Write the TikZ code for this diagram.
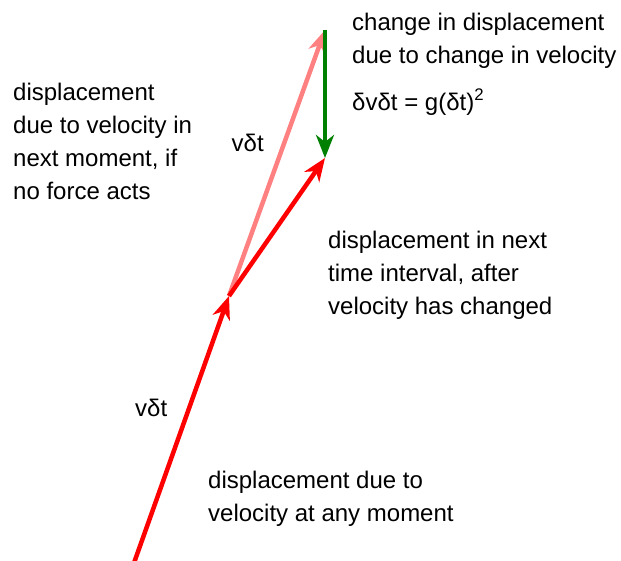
\documentclass[tikz,border=0pt]{standalone}
\usepackage{fontspec}
\setmainfont{Liberation Sans}
\usetikzlibrary{arrows.meta}
\definecolor{vecred}{RGB}{255,0,0}
\definecolor{vecpink}{RGB}{255,128,128}
\definecolor{vecgreen}{RGB}{0,128,0}
\begin{document}
\begin{tikzpicture}[x=1pt,y=-1pt,
  vec/.style={line width=4.5pt,-{Stealth[length=23pt,width=18pt,inset=7pt]}},
  label/.style={anchor=base west,inner sep=0pt,align=left,
    font=\fontsize{24}{33}\selectfont}]
\useasboundingbox (0,0) rectangle (621,560);

% end points of the displacement vectors
\coordinate (O) at (129.7,575);
\coordinate (A) at (229,296);
\coordinate (B) at (325,30);
\coordinate (C) at (325,158);

% vectors
\draw[vec,vecpink] (A) -- (B);
\draw[vec,vecred] (O) -- (A);
\draw[vec,vecred] (A) -- (C);
\draw[vec,vecgreen] (B) -- (C);

% labels (anchored at the baseline of their last line)
\node[label] (tchange) at (352,63.3) {change in displacement\\due to change in velocity};
\node[label] (tformula) at (352,110) {δvδt = g(δt)\textsuperscript{2}};
\node[label] (tnoforce) at (13,199.3) {displacement\\due to velocity in\\next moment, if\\no force acts};
\node[label] (tvup) at (231.5,151) {vδt};
\node[label] (tnext) at (328,314.3) {displacement in next\\time interval, after\\velocity has changed};
\node[label] (tvlow) at (135,416) {vδt};
\node[label] (tany) at (208,521.7) {displacement due to\\velocity at any moment};
\end{tikzpicture}
\end{document}
